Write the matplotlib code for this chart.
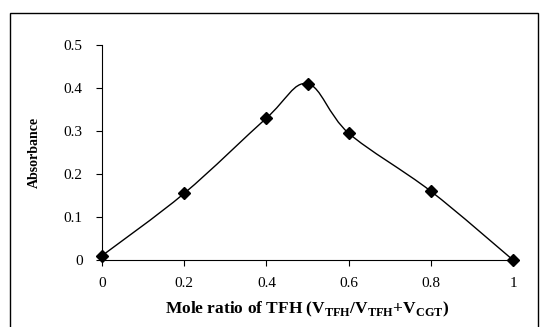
import numpy as np
import matplotlib.pyplot as plt
from matplotlib.path import Path
from matplotlib.patches import PathPatch, Rectangle

plt.rcParams["font.family"] = "Liberation Serif"
plt.rcParams["mathtext.fontset"] = "custom"
plt.rcParams["mathtext.rm"] = "Liberation Serif:bold"
plt.rcParams["mathtext.bf"] = "Liberation Serif:bold"

# data
mole_ratio = [0.0, 0.2, 0.4, 0.5, 0.6, 0.8, 1.0]
absorbance = [0.01, 0.155, 0.33, 0.41, 0.295, 0.16, 0.0]
x_ticks = [0, 0.2, 0.4, 0.6, 0.8, 1]
x_tick_labels = ["0", "0.2", "0.4", "0.6", "0.8", "1"]
y_ticks = [0, 0.1, 0.2, 0.3, 0.4, 0.5]
y_tick_labels = ["0", "0.1", "0.2", "0.3", "0.4", "0.5"]


def smooth_path(xs, ys, tension=1 / 6):
    """Excel-like smoothed line: cubic Bezier segments through the points."""
    pts = np.column_stack([xs, ys])
    n = len(pts)
    verts = [pts[0]]
    codes = [Path.MOVETO]
    for i in range(n - 1):
        p0 = pts[i - 1] if i > 0 else pts[i]
        p1 = pts[i]
        p2 = pts[i + 1]
        p3 = pts[i + 2] if i + 2 < n else pts[i + 1]
        c1 = p1 + (p2 - p0) * tension
        c2 = p2 - (p3 - p1) * tension
        verts += [c1, c2, p2]
        codes += [Path.CURVE4] * 3
    return Path(verts, codes)


fig = plt.figure(figsize=(5.41, 3.27), dpi=100)
# axes: x 0->1 at px 102->513, y 0->0.5 at px 260->45
ax = fig.add_axes([102 / 541, 1 - 260 / 327, 411 / 541, 215 / 327])

curve = PathPatch(smooth_path(mole_ratio, absorbance), facecolor="none",
                  edgecolor="black", linewidth=1.0, clip_on=False)
ax.add_patch(curve)
ax.plot(mole_ratio, absorbance, linestyle="none", marker="D", markersize=6.3,
        color="black", clip_on=False, zorder=3)

ax.set_xlim(0, 1)
ax.set_ylim(0, 0.5)
ax.set_xticks(x_ticks)
ax.set_xticklabels(x_tick_labels)
ax.set_yticks(y_ticks)
ax.set_yticklabels(y_tick_labels)
ax.tick_params(axis="both", labelsize=11, length=4, width=0.8, direction="out")
ax.tick_params(axis="x", pad=8)
ax.tick_params(axis="y", pad=10)
for side in ["top", "right"]:
    ax.spines[side].set_visible(False)
for side in ["left", "bottom"]:
    ax.spines[side].set_linewidth(0.8)

ax.set_xlabel(r"Mole ratio of TFH (V$_{\mathrm{TFH}}$/V$_{\mathrm{TFH}}$+V$_{\mathrm{CGT}}$)",
              fontsize=12.5, fontweight="bold", labelpad=7)
ax.set_ylabel("Absorbance", fontsize=10, fontweight="bold", labelpad=16)

# outer chart frame (bottom edge runs off the image)
fig.patches.append(Rectangle((10 / 541, -0.05), 528 / 541, 0.05 + 1 - 13 / 327,
                             transform=fig.transFigure, fill=False,
                             edgecolor="black", linewidth=1.0))

fig.savefig("out.png", dpi=100)
